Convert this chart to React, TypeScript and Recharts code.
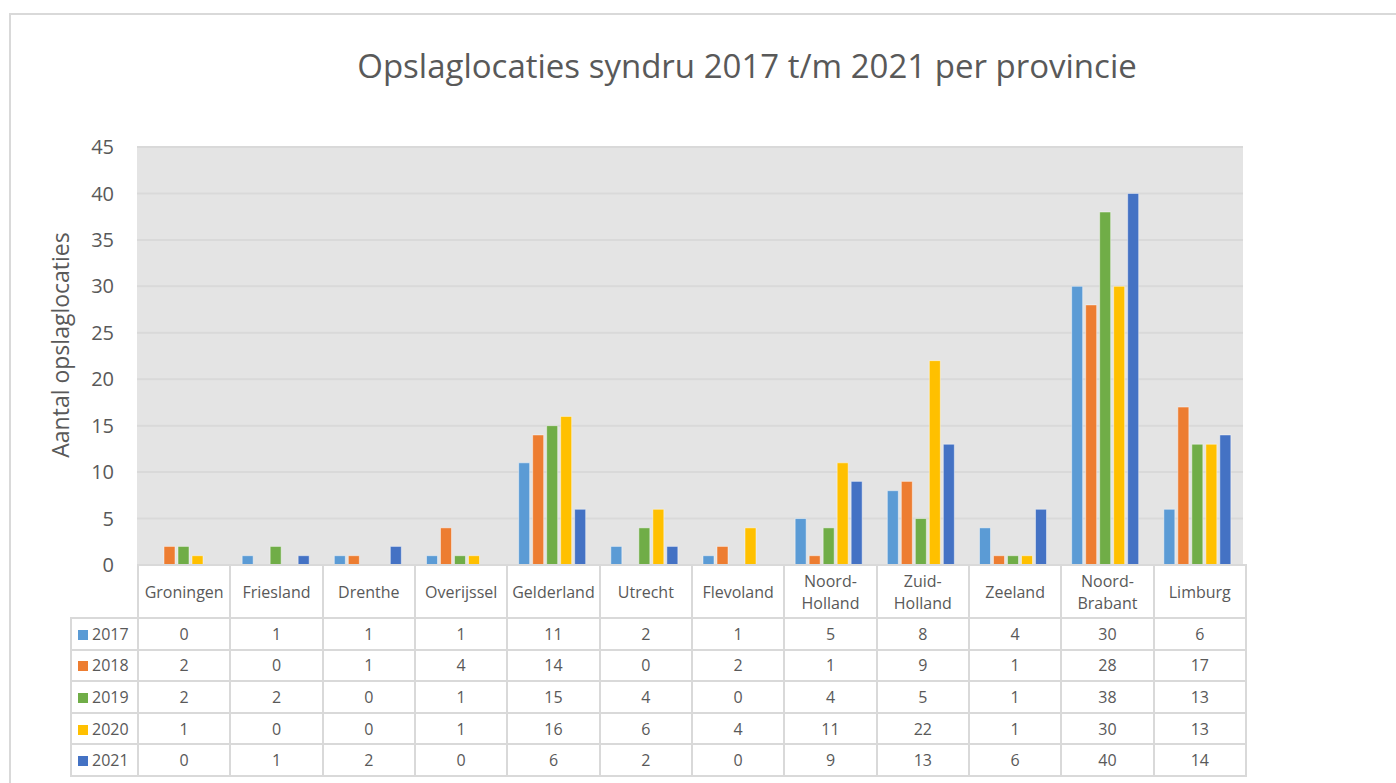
import React from 'react';
import { BarChart, Bar, XAxis, YAxis, CartesianGrid } from 'recharts';

const provinces = [
  'Groningen', 'Friesland', 'Drenthe', 'Overijssel', 'Gelderland', 'Utrecht',
  'Flevoland', 'Noord-Holland', 'Zuid-Holland', 'Zeeland', 'Noord-Brabant', 'Limburg',
];
const years = ['2017', '2018', '2019', '2020', '2021'];
const y2017 = [0, 1, 1, 1, 11, 2, 1, 5, 8, 4, 30, 6];
const y2018 = [2, 0, 1, 4, 14, 0, 2, 1, 9, 1, 28, 17];
const y2019 = [2, 2, 0, 1, 15, 4, 0, 4, 5, 1, 38, 13];
const y2020 = [1, 0, 0, 1, 16, 6, 4, 11, 22, 1, 30, 13];
const y2021 = [0, 1, 2, 0, 6, 2, 0, 9, 13, 6, 40, 14];
const yTicks = [0, 5, 10, 15, 20, 25, 30, 35, 40, 45];

const series = [y2017, y2018, y2019, y2020, y2021];
const colors = ['#5B9BD5', '#ED7D31', '#70AD47', '#FFC000', '#4472C4'];

const data = provinces.map((p, i) => {
  const row: any = { name: p };
  years.forEach((y, s) => { row[y] = series[s][i]; });
  return row;
});

const FONT = '"Open Sans", "Noto Sans", sans-serif';
const TXT = '#595959';
const LINE = '#D9D9D9';

const cellBorder = `2px solid ${LINE}`;

const App: React.FC = () => {
  return (
    <div style={{ position: 'absolute', left: 0, top: 0, width: 1396, height: 783, overflow: 'hidden', background: '#fff', fontFamily: FONT }}>
      {/* chart frame */}
      <div style={{ position: 'absolute', left: 9, top: 13, width: 1500, height: 900, border: `2px solid ${LINE}`, boxSizing: 'border-box' }} />

      <div style={{ position: 'absolute', left: 0, top: 0 }}>
        <BarChart
          width={1396}
          height={783}
          data={data}
          margin={{ top: 147, right: 153, bottom: 218, left: 97 }}
          barCategoryGap={13}
          barGap={3}
        >
          <CartesianGrid vertical={false} stroke={LINE} strokeWidth={2} fill="#E4E4E4" />
          <XAxis dataKey="name" hide />
          <YAxis
            width={40}
            domain={[0, 45]}
            ticks={yTicks}
            axisLine={false}
            tickLine={false}
            tickSize={0}
            tickMargin={23}
            interval={0}
            tick={{ fill: TXT, fontSize: 20, fontFamily: FONT }}
          />
          {years.map((y, s) => (
            <Bar key={y} dataKey={y} fill={colors[s]} stroke="rgba(255,255,255,0.45)" strokeWidth={1} isAnimationActive={false} />
          ))}
        </BarChart>
      </div>

      {/* title */}
      <div style={{ position: 'absolute', left: 0, width: 1494, top: 49, lineHeight: 1, textAlign: 'center', fontSize: 33, color: TXT }}>
        Opslaglocaties syndru 2017 t/m 2021 per provincie
      </div>

      {/* y axis label */}
      <div style={{ position: 'absolute', left: 60, top: 345, transform: 'translate(-50%, -50%) rotate(-90deg)', whiteSpace: 'nowrap', fontSize: 23, color: TXT }}>
        Aantal opslaglocaties
      </div>

      {/* data table */}
      <table style={{ position: 'absolute', left: 70, top: 564, borderCollapse: 'collapse', tableLayout: 'fixed', width: 1175, color: TXT, fontSize: 16 }}>
        <colgroup>
          <col style={{ width: 67 }} />
          {provinces.map(p => <col key={p} style={{ width: 92.33 }} />)}
        </colgroup>
        <tbody>
          <tr style={{ height: 53 }}>
            <td style={{ border: 'none', padding: 0 }} />
            {provinces.map(p => (
              <td key={p} style={{ border: cellBorder, textAlign: 'center', padding: 0, lineHeight: '22px', whiteSpace: 'pre-line' }}>
                {p.replace('-', '-\n')}
              </td>
            ))}
          </tr>
          {years.map((y, s) => (
            <tr key={y} style={{ height: 31.6 }}>
              <td style={{ border: cellBorder, padding: '0 0 0 6px', whiteSpace: 'nowrap' }}>
                <span style={{ display: 'inline-block', width: 10, height: 10, background: colors[s], marginRight: 4 }} />
                {y}
              </td>
              {series[s].map((v, i) => (
                <td key={i} style={{ border: cellBorder, textAlign: 'center', padding: 0 }}>{v}</td>
              ))}
            </tr>
          ))}
        </tbody>
      </table>
    </div>
  );
};

export default App;
